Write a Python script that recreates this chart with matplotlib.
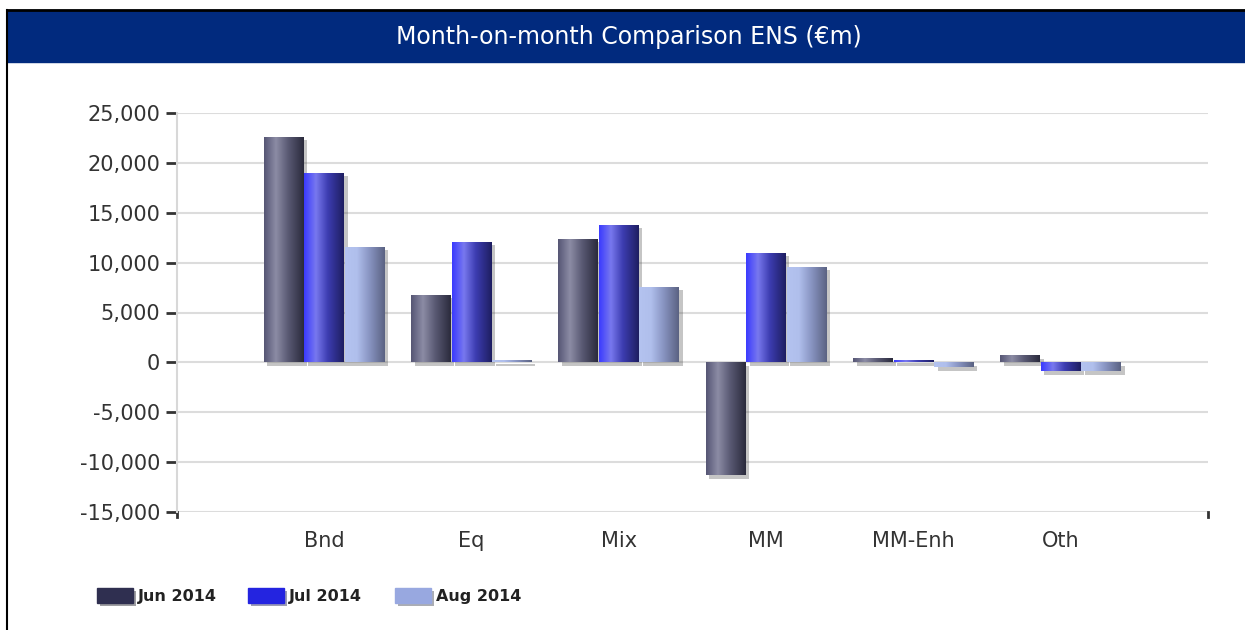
import matplotlib
matplotlib.use("Agg")
import matplotlib.pyplot as plt
import matplotlib.patheffects as pe
import numpy as np
from matplotlib.colors import LinearSegmentedColormap
from matplotlib.patches import Rectangle
from matplotlib.lines import Line2D

categories = ["Bnd", "Eq", "Mix", "MM", "MM-Enh", "Oth"]
series_names = ["Jun 2014", "Jul 2014", "Aug 2014"]
jun = [22600, 6800, 12400, -11300, 400, 700]
jul = [19000, 12100, 13800, 11000, 250, -900]
aug = [11600, 200, 7600, 9600, -500, -900]
yticks = [-15000, -10000, -5000, 0, 5000, 10000, 15000, 20000, 25000]

flat_colors = ["#2f2f50", "#2424e0", "#98a8e0"]
gradients = [
    ["#555574", "#8c8ca5", "#5a5a74", "#2a2a3c"],
    ["#3a3aff", "#7878ee", "#3c3cb0", "#1e1e60"],
    ["#b4c3f0", "#b0bfec", "#8a96c4", "#5a6282"],
]

fig = plt.figure(figsize=(12.45, 6.3), dpi=100)
plt.rcParams["font.family"] = ["DejaVu Sans"]

# title band and frame
fig.patches.append(Rectangle((7 / 1245, 1 - 62 / 630), 1, 52 / 630,
                             transform=fig.transFigure, color="#012a7e", zorder=0))
fig.lines.append(Line2D([7 / 1245, 1], [1 - 10 / 630] * 2, transform=fig.transFigure,
                        color="black", lw=2))
fig.lines.append(Line2D([7 / 1245] * 2, [0, 1 - 10 / 630], transform=fig.transFigure,
                        color="black", lw=1.5))
fig.text(0.505, 1 - 37 / 630, "Month-on-month Comparison ENS (\u20acm)", color="white",
         ha="center", va="center", fontsize=17)

ax = fig.add_axes([177 / 1245, 1 - 512 / 630, (1208 - 177) / 1245, (512 - 113) / 630])

x = np.arange(1, len(categories) + 1)
width = 0.27
offsets = [-0.275, 0.0, 0.275]
grad = np.linspace(0, 1, 256).reshape(1, -1)

for i, vals in enumerate([jun, jul, aug]):
    cmap = LinearSegmentedColormap.from_list(
        "g%d" % i, list(zip([0, 0.3, 0.6, 1], gradients[i])))
    bars = ax.bar(x + offsets[i], vals, width, color=flat_colors[i], zorder=3,
                  path_effects=[pe.SimplePatchShadow(offset=(2.5, -2.5), alpha=0.3,
                                                     shadow_rgbFace="#404040"),
                                pe.Normal()])
    for b in bars:
        x0, y0 = b.get_x(), b.get_y()
        w, h = b.get_width(), b.get_height()
        im = ax.imshow(grad, cmap=cmap, aspect="auto", zorder=4,
                       extent=[x0, x0 + w, min(y0, y0 + h), max(y0, y0 + h)])
        im.set_clip_path(b)

ax.set_xlim(0, 7)
ax.set_ylim(-15000, 25000)
ax.set_yticks(yticks)
ax.set_yticklabels(["{:,}".format(v) for v in yticks])
ax.set_xticks(x)
ax.set_xticklabels(categories)
ax.tick_params(axis="x", length=0, pad=14, labelsize=15, labelcolor="#333333")
ax.tick_params(axis="y", length=8, width=2, color="#333333", pad=4,
               labelsize=15, labelcolor="#333333")
ax.grid(axis="y", color="#dcdcdc", lw=1.5, zorder=0)
for s in ["top", "right", "bottom"]:
    ax.spines[s].set_visible(False)
ax.spines["left"].set_color("#d8d8d8")
ax.spines["left"].set_linewidth(1.5)
# end ticks on the x axis
ax.plot([0, 0], [-15000, -15500], color="#333333", lw=2, clip_on=False)
ax.plot([7, 7], [-15000, -15500], color="#333333", lw=2, clip_on=False)

# legend
leg_x = [97, 248, 395]
for i, name in enumerate(series_names):
    r = Rectangle((leg_x[i] / 1245, 1 - 603 / 630), 36 / 1245, 15 / 630,
                  transform=fig.transFigure, color=flat_colors[i],
                  path_effects=[pe.SimplePatchShadow(offset=(2, -2), alpha=0.4),
                                pe.Normal()])
    fig.patches.append(r)
    fig.text((leg_x[i] + 41) / 1245, 1 - 596 / 630, name, va="center", ha="left",
             fontsize=11.5, fontweight="bold", color="#222222")

fig.savefig("out.png", dpi=100)
